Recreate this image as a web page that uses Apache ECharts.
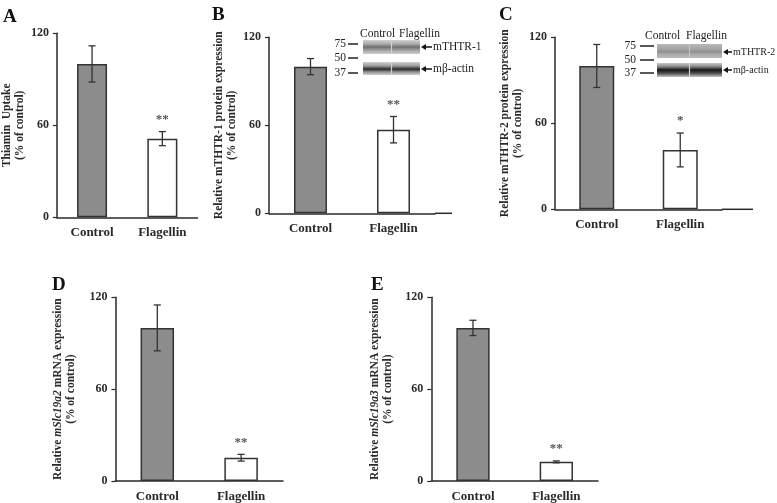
<!DOCTYPE html>
<html><head><meta charset="utf-8">
<script src="https://cdn.jsdelivr.net/npm/echarts@6/dist/echarts.min.js"></script>
<style>html,body{margin:0;padding:0;background:#fff}#c{width:777px;height:503px}</style>
</head><body><div id="c"></div>
<script>
// ---- data ----
const categories = ['Control', 'Flagellin'];
const yTicks = [0, 60, 120];
const panelLetters = ['A', 'B', 'C', 'D', 'E'];
const meansA = [100, 51.3], errA = [11.8, 4.6], sigA = ['', '**'];
const meansB = [100, 57], errB = [5.5, 9], sigB = ['', '**'];
const meansC = [100, 41.4], errC = [15, 11.8], sigC = ['', '*'];
const meansD = [100, 15.2], errD = [15, 2.2], sigD = ['', '**'];
const meansE = [100, 12.5], errE = [5, 0.6], sigE = ['', '**'];
const yNames = [
  'Thiamin  Uptake\n(% of control)',
  'Relative mTHTR-1 protein expression\n(% of control)',
  'Relative mTHTR-2 protein expression\n(% of control)',
  'Relative {i|mSlc19a2} mRNA expression\n(% of control)',
  'Relative {i|mSlc19a3} mRNA expression\n(% of control)'
];
const blotLanes = ['Control', 'Flagellin'];
const blotMarkers = ['75', '50', '37'];
const blotNamesB = ['mTHTR-1', 'mβ-actin'];
const blotNamesC = ['mTHTR-2', 'mβ-actin'];

const panels = [
  {m: meansA, e: errA, s: sigA},
  {m: meansB, e: errB, s: sigB},
  {m: meansC, e: errC, s: sigC},
  {m: meansD, e: errD, s: sigD},
  {m: meansE, e: errE, s: sigE}
];

// ---- layout ----
const FONT = '"Liberation Serif","Times New Roman",serif';
const INK = '#2a2a2a';
const grids = [
  {left: 49.5, top: 33.3, width: 148, height: 184},
  {left: 269, top: 37.3, width: 166, height: 176},
  {left: 555, top: 37.3, width: 167, height: 172},
  {left: 115.4, top: 297.3, width: 167.6, height: 184},
  {left: 431.3, top: 297.3, width: 166.7, height: 184.7}
];
const barW = [30, 33, 35, 33.5, 33.3];
const nameGaps = [26, 30, 30, 38, 37];
const letterPos = [[3, 8], [212, 6], [499, 6], [52, 276], [371, 276]];

const xAxes = [], yAxes = [], series = [];
grids.forEach((g, i) => {
  xAxes.push({
    type: 'category', gridIndex: i, data: categories,
    axisLine: {lineStyle: {color: INK, width: 1.5}},
    axisTick: {show: false},
    axisLabel: {margin: 9, fontFamily: FONT, fontWeight: 'bold', fontSize: 13, color: INK}
  });
  yAxes.push({
    type: 'value', gridIndex: i, min: yTicks[0], max: yTicks[yTicks.length - 1], interval: 60,
    splitLine: {show: false},
    axisLine: {show: true, lineStyle: {color: INK, width: 1.5}},
    axisTick: {show: true, length: 4, lineStyle: {color: INK, width: 1.2}},
    axisLabel: {margin: 8, fontFamily: FONT, fontWeight: 'bold', fontSize: 12, color: INK},
    name: yNames[i], nameLocation: 'middle', nameGap: nameGaps[i],
    nameTextStyle: {
      fontFamily: FONT, fontWeight: 'bold', fontSize: 11.5, lineHeight: 13, color: INK,
      rich: {i: {fontFamily: FONT, fontWeight: 'bold', fontStyle: 'italic', fontSize: 11.5, lineHeight: 13, color: INK}}
    }
  });
  const p = panels[i];
  series.push({
    type: 'bar', xAxisIndex: i, yAxisIndex: i, barWidth: barW[i],
    data: p.m.map((v, k) => ({
      value: v,
      itemStyle: {color: k === 0 ? '#8c8c8c' : '#ffffff', borderColor: '#333', borderWidth: 1.5}
    })),
    silent: true, animation: false
  });
  series.push({
    type: 'custom', xAxisIndex: i, yAxisIndex: i, silent: true, animation: false, z: 5,
    data: p.m.map((v, k) => [k, v, p.e[k]]),
    renderItem: function (params, api) {
      const k = api.value(0), v = api.value(1), e = api.value(2);
      const top = api.coord([k, v + e]);
      const bot = api.coord([k, v - e]);
      const cw = 3.5;
      const st = {stroke: '#333', lineWidth: 1.3};
      const children = [
        {type: 'line', shape: {x1: top[0], y1: top[1], x2: bot[0], y2: bot[1]}, style: st},
        {type: 'line', shape: {x1: top[0] - cw, y1: top[1], x2: top[0] + cw, y2: top[1]}, style: st},
        {type: 'line', shape: {x1: bot[0] - cw, y1: bot[1], x2: bot[0] + cw, y2: bot[1]}, style: st}
      ];
      const s = p.s[k];
      if (s) {
        children.push({type: 'text', x: top[0], y: top[1] - 12,
          style: {text: s, fill: '#555', font: 'bold 13px ' + FONT, align: 'center', verticalAlign: 'middle'}});
      }
      return {type: 'group', children: children};
    }
  });
});

// ---- graphics: letters, axis extensions, blots ----
const graphic = [];
panelLetters.forEach((L, i) => {
  graphic.push({type: 'text', left: letterPos[i][0], top: letterPos[i][1],
    style: {text: L, font: 'bold 19px ' + FONT, fill: '#111'}});
});
graphic.push({type: 'line', shape: {x1: 435, y1: 213.3, x2: 452, y2: 213.3}, style: {stroke: INK, lineWidth: 1.5}});
graphic.push({type: 'line', shape: {x1: 722, y1: 209.3, x2: 753, y2: 209.3}, style: {stroke: INK, lineWidth: 1.5}});

function grad(stops) {
  return {type: 'linear', x: 0, y: 0, x2: 0, y2: 1, colorStops: stops.map(s => ({offset: s[0], color: s[1]}))};
}
function blot(cfg) {
  const g = [];
  g.push({type: 'text', x: cfg.laneTextX[0], y: cfg.textY, style: {text: blotLanes[0], font: '11.5px ' + FONT, fill: '#222', verticalAlign: 'middle'}});
  g.push({type: 'text', x: cfg.laneTextX[1], y: cfg.textY, style: {text: blotLanes[1], font: '11.5px ' + FONT, fill: '#222', verticalAlign: 'middle'}});
  blotMarkers.forEach((m, j) => {
    const y = cfg.markY[j];
    g.push({type: 'text', x: cfg.markX, y: y, style: {text: m, font: '11.5px ' + FONT, fill: '#222', align: 'right', verticalAlign: 'middle'}});
    g.push({type: 'line', shape: {x1: cfg.dash[0], y1: y, x2: cfg.dash[1], y2: y}, style: {stroke: '#222', lineWidth: 1.5}});
  });
  cfg.boxes.forEach((b, j) => {
    const half = (cfg.x1 - cfg.x0) / 2;
    g.push({type: 'rect', shape: {x: cfg.x0, y: b.y0, width: cfg.x1 - cfg.x0, height: b.y1 - b.y0}, style: {fill: b.bg}});
    [0, 1].forEach(l => {
      g.push({type: 'rect', shape: {x: cfg.x0 + l * half + (l ? 0.6 : 0), y: b.y0, width: half - 0.6, height: b.y1 - b.y0},
        style: {fill: grad(b.stops)}});
    });
    const ay = b.ay;
    g.push({type: 'polygon', shape: {points: [[cfg.ax, ay], [cfg.ax + 5, ay - 3], [cfg.ax + 5, ay + 3]]}, style: {fill: '#111'}});
    g.push({type: 'line', shape: {x1: cfg.ax + 4, y1: ay, x2: cfg.ax + cfg.arrowLen, y2: ay}, style: {stroke: '#111', lineWidth: 1.5}});
    g.push({type: 'text', x: cfg.ax + cfg.arrowLen + 1, y: ay, style: {text: cfg.names[j], font: cfg.nameFont + 'px ' + FONT, fill: '#222', verticalAlign: 'middle'}});
  });
  return g;
}
const stB1 = [[0, '#d2d2d2'], [0.3, '#a8a8a8'], [0.5, '#6e6e6e'], [0.72, '#a0a0a0'], [1, '#d0d0d0']];
const stB2 = [[0, '#d0d0d0'], [0.3, '#9a9a9a'], [0.55, '#2a2a2a'], [0.75, '#8a8a8a'], [1, '#d4d4d4']];
const stC1 = [[0, '#b8b8b8'], [0.4, '#a2a2a2'], [0.55, '#8e8e8e'], [0.7, '#a8a8a8'], [1, '#bababa']];
const stC2 = [[0, '#c8c8c8'], [0.25, '#8a8a8a'], [0.5, '#151515'], [0.75, '#555'], [1, '#c8c8c8']];
graphic.push(...blot({
  laneTextX: [360, 399], textY: 34, markX: 346, dash: [348, 358], markY: [44, 58, 73],
  x0: 363, x1: 420, nameFont: 11.5, arrowLen: 11,
  boxes: [{y0: 40, y1: 54, ay: 47, bg: '#cfcfcf', stops: stB1}, {y0: 62, y1: 75, ay: 69, bg: '#cfcfcf', stops: stB2}],
  ax: 421, names: blotNamesB
}));
graphic.push(...blot({
  laneTextX: [645, 686], textY: 36, markX: 636, dash: [640, 654], markY: [46, 60, 73],
  x0: 657, x1: 722, nameFont: 10, arrowLen: 9,
  boxes: [{y0: 44, y1: 58, ay: 52, bg: '#c4c4c4', stops: stC1}, {y0: 63, y1: 77, ay: 70, bg: '#d0d0d0', stops: stC2}],
  ax: 723, names: blotNamesC
}));

const chart = echarts.init(document.getElementById('c'), null, {renderer: 'canvas'});
chart.setOption({
  animation: false,
  backgroundColor: '#fff',
  grid: grids,
  xAxis: xAxes,
  yAxis: yAxes,
  series: series,
  graphic: graphic
});
</script>
</body></html>
